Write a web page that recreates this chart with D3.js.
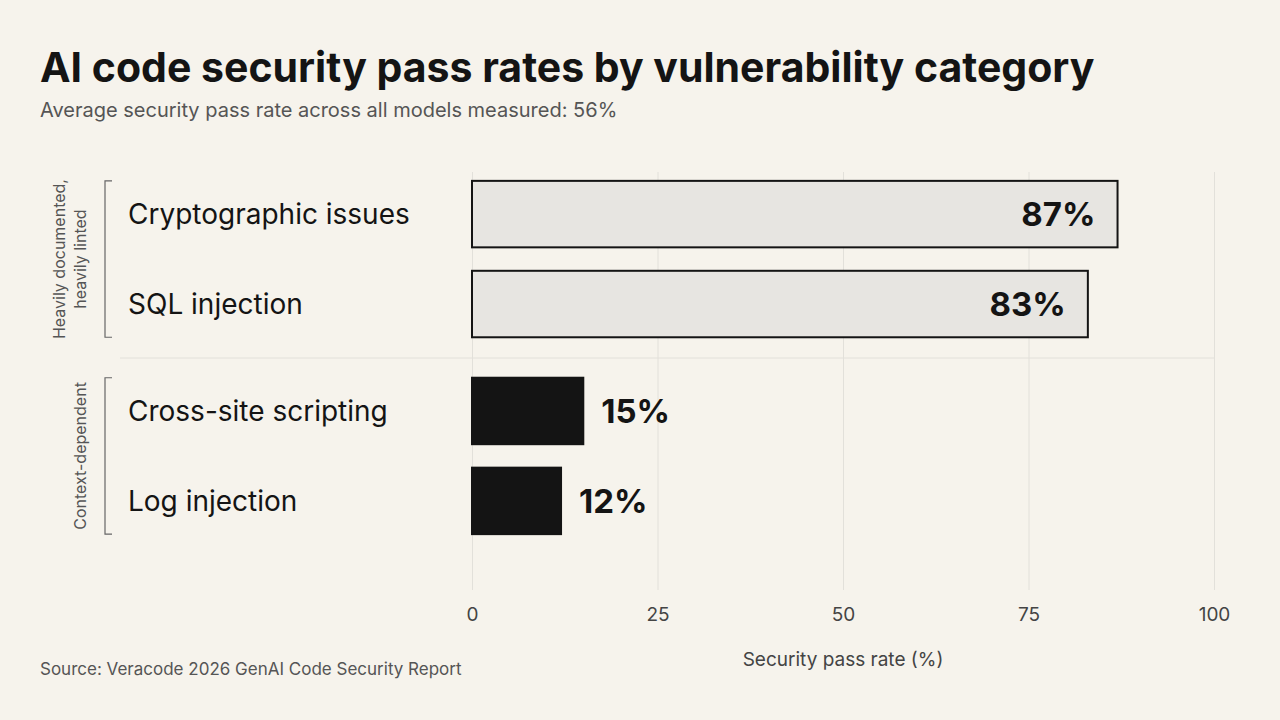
<!DOCTYPE html>
<html>
<head>
<meta charset="utf-8">
<script src="https://cdn.jsdelivr.net/npm/d3@7"></script>
<style>
  body { margin: 0; background: #f6f3ec; }
  svg { font-family: Inter, "Noto Sans", sans-serif; }
</style>
</head>
<body>
<svg id="chart" width="1280" height="720"></svg>
<script>
'use strict';

const categories = ['Cryptographic issues', 'SQL injection', 'Cross-site scripting', 'Log injection'];
const passRates = [87, 83, 15, 12];
const groupOf = [0, 0, 1, 1];
const groupLabels = [['Heavily documented,', 'heavily linted'], ['Context-dependent']];
const xTicks = [0, 25, 50, 75, 100];

(function() {
    const d3 = window.d3;
    const svg = d3.select('#chart');
    const ink = '#141414';

    svg.append('rect').attr('width', 1280).attr('height', 720).attr('fill', '#f6f3ec');

    svg.append('text').attr('x', 40).attr('y', 82)
        .attr('font-size', 41).attr('font-weight', 700).attr('fill', ink)
        .text('AI code security pass rates by vulnerability category');
    svg.append('text').attr('x', 40).attr('y', 117)
        .attr('font-size', 20).attr('fill', '#555')
        .text('Average security pass rate across all models measured: 56%');
    svg.append('text').attr('x', 40).attr('y', 675)
        .attr('font-size', 17).attr('fill', '#555')
        .text('Source: Veracode 2026 GenAI Code Security Report');

    const x = d3.scaleLinear().domain([0, 100]).range([472, 1214]);
    const groupGap = 17;
    const yBand = d3.scaleBand()
        .domain(categories)
        .range([165, 533])
        .paddingInner(24 / 92)
        .paddingOuter(12 / 92 / (1 - 24 / 92) * 1);
    const y = (c, i) => yBand(c) + groupOf[i] * groupGap;

    // grid
    svg.append('g')
        .attr('transform', 'translate(0,590)')
        .call(d3.axisBottom(x).tickValues(xTicks).tickSize(-418).tickPadding(18))
        .call(g => g.select('.domain').remove())
        .call(g => g.selectAll('.tick line').attr('stroke', '#e2e0da'))
        .call(g => g.selectAll('.tick text').attr('font-size', 19).attr('fill', '#444')
            .attr('font-family', 'Inter, sans-serif'));

    svg.append('text').attr('x', x(50)).attr('y', 666).attr('text-anchor', 'middle')
        .attr('font-size', 19).attr('fill', '#444').text('Security pass rate (%)');

    // group separator
    svg.append('line').attr('x1', 120).attr('x2', 1214).attr('y1', 358).attr('y2', 358)
        .attr('stroke', '#e2e0da');

    const row = svg.selectAll('.row').data(categories).enter().append('g');

    row.append('rect')
        .attr('x', x(0))
        .attr('y', (d, i) => y(d, i))
        .attr('width', (d, i) => x(passRates[i]) - x(0))
        .attr('height', yBand.bandwidth())
        .attr('fill', (d, i) => groupOf[i] === 0 ? '#e7e5e1' : ink)
        .attr('stroke', ink).attr('stroke-width', 2);

    row.append('text')
        .attr('x', 128)
        .attr('y', (d, i) => y(d, i) + yBand.bandwidth() / 2)
        .attr('dy', '0.35em')
        .attr('font-size', 28).attr('fill', ink)
        .text(d => d);

    row.append('text')
        .attr('x', (d, i) => groupOf[i] === 0 ? x(passRates[i]) - 22 : x(passRates[i]) + 18)
        .attr('text-anchor', (d, i) => groupOf[i] === 0 ? 'end' : 'start')
        .attr('y', (d, i) => y(d, i) + yBand.bandwidth() / 2)
        .attr('dy', '0.36em')
        .attr('font-size', 33).attr('font-weight', 700).attr('fill', ink)
        .text((d, i) => passRates[i] + '%');

    // brackets
    groupLabels.forEach((lines, gi) => {
        const idx = categories.filter((c, i) => groupOf[i] === gi).map(c => categories.indexOf(c));
        const top = y(categories[idx[0]], idx[0]);
        const bot = y(categories[idx[idx.length - 1]], idx[idx.length - 1]) + yBand.bandwidth();
        svg.append('path')
            .attr('d', `M112,${top}H105V${bot}H112`)
            .attr('fill', 'none').attr('stroke', '#666').attr('stroke-width', 1.2);
        const mid = (top + bot) / 2;
        const lx = 86 - (lines.length - 1) * 21;
        lines.forEach((t, li) => {
            svg.append('text')
                .attr('transform', `translate(${lx + li * 21},${mid}) rotate(-90)`)
                .attr('text-anchor', 'middle')
                .attr('font-size', 16).attr('fill', '#555')
                .text(t);
        });
    });
}());
</script>
</body>
</html>
